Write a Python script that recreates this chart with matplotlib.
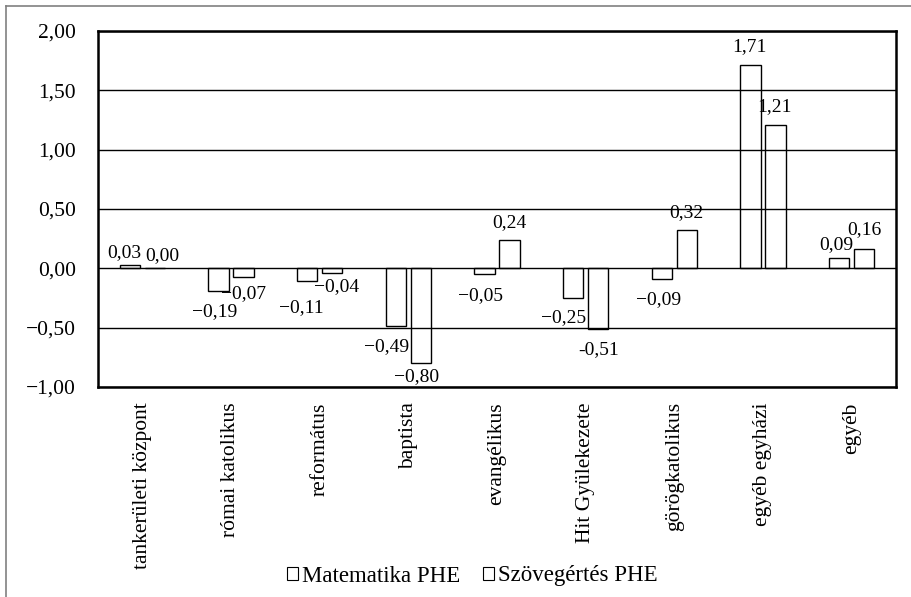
import matplotlib
matplotlib.use("Agg")
import matplotlib.pyplot as plt
from matplotlib.patches import Patch
from matplotlib.lines import Line2D
from matplotlib.ticker import FixedLocator, FuncFormatter
import numpy as np

categories = ["tankerületi központ", "római katolikus", "református", "baptista",
              "evangélikus", "Hit Gyülekezete", "görögkatolikus", "egyéb egyházi", "egyéb"]
matematika = [0.03, -0.19, -0.11, -0.49, -0.05, -0.25, -0.09, 1.71, 0.09]
szovegertes = [0.00, -0.07, -0.04, -0.80, 0.24, -0.51, 0.32, 1.21, 0.16]
series_names = ["Matematika PHE", "Szövegértés PHE"]
y_ticks = [-1.0, -0.5, 0.0, 0.5, 1.0, 1.5, 2.0]

# label placement (pixel offsets of the label centre from the bar end)
mat_offsets = [(-6, 12), (-4, 21), (-6, 26), (-9, 20), (-4, 21), (-10, 20), (-3, 21), (-1, 19), (-3, 13)]
szo_offsets = [(7, 13), (0, 17), (4, 14), (-4, 13), (0, 17), (0, 21), (0, 18), (-1, 18), (0, 20)]

FONT = "Liberation Serif"
plt.rcParams["font.family"] = [FONT, "DejaVu Serif"]


def hu_num(v, pos=None, minus="\u2212"):
    s = f"{abs(v):.2f}".replace(".", ",")
    return (minus + s) if v < 0 else s


fig = plt.figure(figsize=(9.12, 5.97), dpi=100)
ax = fig.add_axes([98 / 912, 1 - 387 / 597, 798 / 912, 356 / 597])

x = np.arange(len(categories))
w = 0.229
off = 0.141
bars_m = ax.bar(x - off, matematika, w, facecolor="none", edgecolor="black", linewidth=1.0, zorder=3)
bars_s = ax.bar(x + off, szovegertes, w, facecolor="none", edgecolor="black", linewidth=1.0, zorder=3)

ax.set_xlim(-0.5, len(categories) - 0.5)
ax.set_ylim(-1.0, 2.0)
ax.yaxis.set_major_locator(FixedLocator(y_ticks))
ax.yaxis.set_major_formatter(FuncFormatter(hu_num))
ax.grid(axis="y", color="black", linewidth=1.0, zorder=1)
ax.set_axisbelow(True)
for sp in ax.spines.values():
    sp.set_linewidth(1.8)
    sp.set_color("black")

ax.set_xticks(x)
ax.set_xticklabels(categories, rotation=90, fontsize=15.5, va="top", ha="center")
ax.tick_params(axis="both", length=0)
ax.tick_params(axis="y", labelsize=15.5, pad=16)
ax.tick_params(axis="x", pad=11)


def label_bars(bars, values, offsets):
    for b, v, (dx, dy) in zip(bars, values, offsets):
        xc = b.get_x() + b.get_width() / 2
        if v >= 0:
            ax.annotate(hu_num(v), (xc, v), xytext=(dx, dy), textcoords="offset pixels",
                        ha="center", va="center", fontsize=14, zorder=5)
        else:
            txt = hu_num(v, minus="-") if v == -0.51 else hu_num(v)
            ax.annotate(txt, (xc, v), xytext=(dx, -dy), textcoords="offset pixels",
                        ha="center", va="center", fontsize=14, zorder=5)


label_bars(bars_m, matematika, mat_offsets)
label_bars(bars_s, szovegertes, szo_offsets)

handles = [Patch(facecolor="white", edgecolor="black", linewidth=0.8, label=n) for n in series_names]
fig.legend(handles=handles, loc="center", bbox_to_anchor=(472 / 912, 1 - 576 / 597),
           ncol=2, frameon=False, fontsize=16.5, handlelength=0.5, handleheight=0.5,
           handletextpad=0.15, columnspacing=1.0)

# frame around the chart area (left and top edges)
fig.add_artist(Line2D([6 / 912, 6 / 912], [0, 1 - 6 / 597], transform=fig.transFigure,
                      color="#808080", linewidth=1.2))
fig.add_artist(Line2D([6 / 912, 1], [1 - 6 / 597, 1 - 6 / 597], transform=fig.transFigure,
                      color="#808080", linewidth=1.2))

fig.savefig("out.png", dpi=100)
